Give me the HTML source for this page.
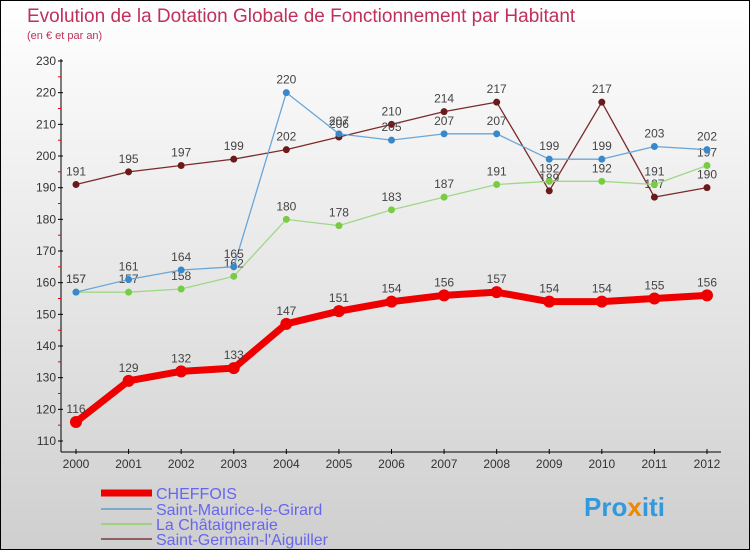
<!DOCTYPE html>
<html><head><meta charset="utf-8"><style>
body{margin:0;}
#c{width:748px;height:548px;border:1px solid #000;background:linear-gradient(#ffffff,#cfcfcf);position:relative;overflow:hidden;font-family:"Liberation Sans",sans-serif;}
</style></head><body>
<div id="c">
<svg id="s" width="748" height="548" xmlns="http://www.w3.org/2000/svg" font-family="Liberation Sans, sans-serif">
<text x="26" y="21" font-size="19" fill="#c0305a">Evolution de la Dotation Globale de Fonctionnement par Habitant</text>
<text x="26" y="38" font-size="11" fill="#c0305a">(en € et par an)</text>
<g id="axes"></g><g id="series"></g>
<g>
<line x1="100" y1="492" x2="151" y2="492" stroke="#ee0000" stroke-width="7"/>
<text x="155" y="498" font-size="16" fill="#6666ee">CHEFFOIS</text>
<line x1="100" y1="508" x2="151" y2="508" stroke="#80a8cc" stroke-width="2"/>
<text x="155" y="514" font-size="16" fill="#6666ee">Saint-Maurice-le-Girard</text>
<line x1="100" y1="523" x2="151" y2="523" stroke="#a0d080" stroke-width="2"/>
<text x="155" y="529" font-size="16" fill="#6666ee">La Châtaigneraie</text>
<line x1="100" y1="538" x2="151" y2="538" stroke="#906060" stroke-width="2"/>
<text x="155" y="544" font-size="16" fill="#6666ee">Saint-Germain-l'Aiguiller</text>
</g>
<text x="583" y="515" font-size="26" font-weight="bold" fill="#3399dd">Pro<tspan fill="#ee8800">x</tspan>iti</text>
</svg>
</div>
<script>
const years=[2000,2001,2002,2003,2004,2005,2006,2007,2008,2009,2010,2011,2012];
const cheffois=[116,129,132,133,147,151,154,156,157,154,154,155,156];
const stMaurice=[157,161,164,165,220,207,205,207,207,199,199,203,202];
const chataigneraie=[157,157,158,162,180,178,183,187,191,192,192,191,197];
const stGermain=[191,195,197,199,202,206,210,214,217,189,217,187,190];
const yTicks=[110,120,130,140,150,160,170,180,190,200,210,220,230];
const NS="http://www.w3.org/2000/svg";
const X=i=>75+i*(706-75)/12;
const Y=v=>440-(v-110)*(380/120);
function mk(t,a,p){const e=document.createElementNS(NS,t);for(const k in a)e.setAttribute(k,a[k]);p.appendChild(e);return e;}
const ax=document.getElementById('axes');
let l=mk('line',{x1:60,y1:58,x2:60,y2:451,stroke:'#000'},ax);


l=mk('line',{x1:60,y1:451,x2:720,y2:451,stroke:'#000'},ax);


yTicks.forEach(v=>{mk('line',{x1:57,y1:Y(v),x2:62,y2:Y(v),stroke:'#000'},ax);
 if(v<230)mk('line',{x1:57,y1:Y(v+5),x2:60,y2:Y(v+5),stroke:'#e00'},ax);
 const t=mk('text',{x:55,y:Y(v)+4,'font-size':12,fill:'#333','text-anchor':'end'},ax);t.textContent=v;
 
 });
years.forEach((yr,i)=>{mk('line',{x1:X(i),y1:448,x2:X(i),y2:453,stroke:'#000'},ax);
 const t=mk('text',{x:X(i),y:467,'font-size':12,fill:'#333','text-anchor':'middle'},ax);t.textContent=yr;
 
 });
const sg=document.getElementById('series');
function draw(data,name,col,pt,w,r,fs){
 const g=mk('g',{},sg);
 
 
 mk('polyline',{points:data.map((v,i)=>X(i)+','+Y(v)).join(' '),fill:'none',stroke:col,'stroke-width':w,'stroke-linejoin':'round'},g);
 data.forEach((v,i)=>{const c=mk('circle',{cx:X(i),cy:Y(v),r:r,fill:pt},g);
  
  
  const t=mk('text',{x:X(i),y:Y(v)-9,'font-size':fs,fill:'#444','text-anchor':'middle'},g);t.textContent=v;
  
  });
}
draw(stGermain,'saint-germain','#7a2a2a','#6a1a1a',1.3,3.5,12);
draw(chataigneraie,'chataigneraie','#a0d888','#77cc44',1.3,3.5,12);
draw(stMaurice,'saint-maurice','#6aa6d8','#3a88cc',1.3,3.5,12);
draw(cheffois,'cheffois','#ee0000','#ee0000',7,6,12);
</script>
</body></html>
